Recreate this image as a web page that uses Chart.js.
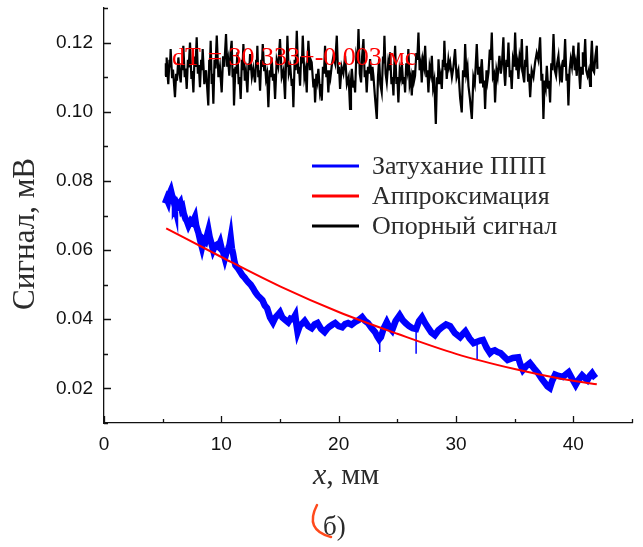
<!DOCTYPE html>
<html>
<head>
<meta charset="utf-8">
<script src="https://cdn.jsdelivr.net/npm/chart.js@4.4.0/dist/chart.umd.min.js"></script>
<style>
  html, body { margin: 0; padding: 0; background: #fff; }
  #wrap { width: 643px; height: 547px; }
</style>
</head>
<body>
<div id="wrap"><canvas id="plot" width="643" height="547"></canvas></div>
<script>
// Опорный сигнал (black)
const refX = [5.20, 5.27, 5.31, 5.34, 5.41, 5.48, 5.58, 5.62, 5.68, 5.80, 5.88, 6.05, 6.15, 6.22, 6.34, 6.44, 6.54, 6.62, 6.68, 6.76,
  6.88, 6.95, 7.05, 7.15, 7.22, 7.33, 7.45, 7.52, 7.62, 7.72, 7.80, 7.90, 8.00, 8.08, 8.18, 8.28, 8.34, 8.41, 8.55, 8.70,
  8.89, 8.97, 9.02, 9.09, 9.18, 9.24, 9.32, 9.42, 9.50, 9.61, 9.75, 9.88, 10.03, 10.15, 10.25, 10.40, 10.50, 10.58, 10.68, 10.78,
  10.88, 10.96, 11.02, 11.08, 11.20, 11.28, 11.37, 11.48, 11.55, 11.65, 11.75, 11.80, 11.88, 12.00, 12.10, 12.22, 12.32, 12.38, 12.45, 12.60,
  12.72, 12.87, 12.97, 13.02, 13.07, 13.15, 13.22, 13.30, 13.40, 13.46, 13.53, 13.65, 13.72, 13.81, 13.90, 14.01, 14.12, 14.20, 14.29, 14.40,
  14.48, 14.58, 14.72, 14.85, 15.00, 15.15, 15.30, 15.43, 15.52, 15.57, 15.63, 15.75, 15.88, 16.00, 16.07, 16.14, 16.25, 16.33, 16.43, 16.55,
  16.62, 16.71, 16.80, 16.87, 16.94, 17.08, 17.18, 17.28, 17.35, 17.42, 17.55, 17.62, 17.70, 17.85, 17.92, 17.99, 18.10, 18.18, 18.27, 18.40,
  18.48, 18.56, 18.66, 18.75, 18.84, 18.95, 19.03, 19.12, 19.22, 19.30, 19.41, 19.55, 19.70, 19.84, 19.95, 20.03, 20.12, 20.25, 20.40, 20.55,
  20.70, 20.85, 20.97, 21.05, 21.12, 21.25, 21.32, 21.40, 21.50, 21.60, 21.69, 21.80, 21.91, 22.00, 22.11, 22.22, 22.30, 22.39, 22.50, 22.58,
  22.68, 22.80, 22.88, 22.96, 23.10, 23.25, 23.35, 23.45, 23.55, 23.67, 23.78, 23.84, 23.90, 24.00, 24.10, 24.22, 24.30, 24.38, 24.50, 24.58,
  24.67, 24.75, 24.81, 24.92, 25.00, 25.09, 25.20, 25.30, 25.38, 25.50, 25.58, 25.66, 25.76, 25.85, 25.94, 26.05, 26.15, 26.23, 26.35, 26.43,
  26.51, 26.62, 26.70, 26.80, 26.90, 27.00, 27.08, 27.18, 27.28, 27.37, 27.48, 27.56, 27.65, 27.75, 27.85, 27.94, 28.05, 28.15, 28.28, 28.38,
  28.45, 28.51, 28.62, 28.70, 28.79, 28.88, 28.95, 29.01, 29.10, 29.15, 29.21, 29.35, 29.42, 29.50, 29.65, 29.78, 29.92, 30.05, 30.20, 30.35,
  30.49, 30.60, 30.70, 30.78, 30.88, 30.98, 31.06, 31.18, 31.35, 31.48, 31.60, 31.77, 31.88, 31.96, 32.05, 32.12, 32.20, 32.32, 32.40, 32.48,
  32.60, 32.68, 32.77, 32.88, 32.96, 33.05, 33.15, 33.25, 33.33, 33.45, 33.55, 33.70, 33.82, 33.92, 34.04, 34.12, 34.19, 34.30, 34.38, 34.47,
  34.58, 34.66, 34.75, 34.85, 34.95, 35.04, 35.15, 35.24, 35.32, 35.42, 35.52, 35.61, 35.70, 35.81, 35.90, 35.96, 36.03, 36.14, 36.22, 36.32,
  36.45, 36.60, 36.74, 36.88, 37.02, 37.17, 37.28, 37.36, 37.45, 37.55, 37.65, 37.74, 37.85, 37.92, 38.02, 38.12, 38.20, 38.31, 38.42, 38.53,
  38.62, 38.73, 38.85, 38.94, 39.02, 39.12, 39.20, 39.30, 39.42, 39.50, 39.58, 39.68, 39.78, 39.88, 40.01, 40.12, 40.20, 40.29, 40.36, 40.44,
  40.52, 40.58, 40.68, 40.75, 40.81, 40.90, 41.01, 41.10, 41.21, 41.32, 41.43, 41.50, 41.58, 41.68, 41.77, 41.88, 42.00, 42.05];
const refY = [0.1104, 0.1140, 0.1118, 0.1157, 0.1110, 0.1080, 0.1150, 0.1128, 0.1181, 0.1100, 0.1122, 0.1042, 0.1110, 0.1090, 0.1157, 0.1110, 0.1085, 0.1140, 0.1120, 0.1191,
  0.1100, 0.1125, 0.1066, 0.1150, 0.1128, 0.1200, 0.1095, 0.1118, 0.1056, 0.1160, 0.1130, 0.1215, 0.1110, 0.1135, 0.1071, 0.1150, 0.1120, 0.1181, 0.1080, 0.1120,
  0.1018, 0.1150, 0.1120, 0.1205, 0.1080, 0.1110, 0.1023, 0.1150, 0.1125, 0.1220, 0.1100, 0.1130, 0.1056, 0.1160, 0.1130, 0.1225, 0.1130, 0.1150, 0.1104, 0.1170,
  0.1205, 0.1100, 0.1125, 0.1018, 0.1130, 0.1110, 0.1172, 0.1080, 0.1100, 0.1037, 0.1150, 0.1120, 0.1196, 0.1090, 0.1115, 0.1056, 0.1140, 0.1120, 0.1167, 0.1100,
  0.1125, 0.1085, 0.1150, 0.1130, 0.1191, 0.1100, 0.1120, 0.1061, 0.1150, 0.1130, 0.1196, 0.1120, 0.1140, 0.1095, 0.1110, 0.1013, 0.1120, 0.1100, 0.1157, 0.1090,
  0.1110, 0.1037, 0.1150, 0.1130, 0.1210, 0.1100, 0.1120, 0.1037, 0.1150, 0.1130, 0.1220, 0.1110, 0.1130, 0.1075, 0.1095, 0.1013, 0.1150, 0.1120, 0.1234, 0.1110,
  0.1130, 0.1075, 0.1160, 0.1140, 0.1220, 0.1100, 0.1120, 0.1056, 0.1150, 0.1205, 0.1120, 0.1150, 0.1143, 0.1070, 0.1095, 0.1027, 0.1110, 0.1090, 0.1124, 0.1060,
  0.1080, 0.1032, 0.1130, 0.1110, 0.1191, 0.1100, 0.1120, 0.1056, 0.1120, 0.1100, 0.1133, 0.1160, 0.1140, 0.1220, 0.1110, 0.1130, 0.1066, 0.1130, 0.1110, 0.1162,
  0.1080, 0.1100, 0.1008, 0.1090, 0.1124, 0.1070, 0.1090, 0.1056, 0.1160, 0.1140, 0.1239, 0.1110, 0.1085, 0.1160, 0.1210, 0.1100, 0.1120, 0.1056, 0.1130, 0.1110,
  0.1152, 0.1090, 0.1130, 0.1104, 0.1040, 0.0979, 0.1100, 0.1152, 0.1080, 0.1056, 0.1160, 0.1140, 0.1220, 0.1110, 0.1085, 0.1140, 0.1120, 0.1172, 0.1080, 0.1100,
  0.1047, 0.1140, 0.1191, 0.1080, 0.1100, 0.1027, 0.1120, 0.1100, 0.1143, 0.1080, 0.1100, 0.1056, 0.1140, 0.1120, 0.1181, 0.1080, 0.1100, 0.1047, 0.1120, 0.1090,
  0.1104, 0.1170, 0.1150, 0.1229, 0.1120, 0.1140, 0.1085, 0.1150, 0.1130, 0.1191, 0.1100, 0.1120, 0.1056, 0.1130, 0.1110, 0.1162, 0.1070, 0.1090, 0.0965, 0.1100,
  0.1080, 0.1152, 0.1080, 0.1100, 0.1066, 0.1150, 0.1130, 0.1205, 0.1120, 0.1140, 0.1095, 0.1150, 0.1130, 0.1143, 0.1100, 0.1130, 0.1181, 0.1100, 0.1120, 0.1040,
  0.0998, 0.1120, 0.1100, 0.1196, 0.1110, 0.1130, 0.1075, 0.1040, 0.0979, 0.1100, 0.1080, 0.1196, 0.1110, 0.1130, 0.1085, 0.1120, 0.1152, 0.1070, 0.1090, 0.1008,
  0.1120, 0.1090, 0.1114, 0.1180, 0.1150, 0.1229, 0.1100, 0.1110, 0.1027, 0.1120, 0.1100, 0.1162, 0.1110, 0.1140, 0.1215, 0.1110, 0.1075, 0.1150, 0.1130, 0.1200,
  0.1100, 0.1120, 0.1066, 0.1150, 0.1130, 0.1229, 0.1120, 0.1140, 0.1095, 0.1160, 0.1140, 0.1210, 0.1110, 0.1085, 0.1150, 0.1130, 0.1191, 0.1090, 0.1110, 0.1042,
  0.1120, 0.1100, 0.1143, 0.1170, 0.1150, 0.1215, 0.1090, 0.1110, 0.0979, 0.1090, 0.1070, 0.1133, 0.1070, 0.1090, 0.1027, 0.1140, 0.1120, 0.1225, 0.1120, 0.1104,
  0.1140, 0.1162, 0.1100, 0.1120, 0.1085, 0.1150, 0.1130, 0.1210, 0.1090, 0.1110, 0.1018, 0.1120, 0.1152, 0.1130, 0.1191, 0.1120, 0.1140, 0.1104, 0.1150, 0.1200,
  0.1100, 0.1066, 0.1130, 0.1110, 0.1172, 0.1130, 0.1210, 0.1120, 0.1104, 0.1120, 0.1075, 0.1150, 0.1205, 0.1120, 0.1114, 0.1160, 0.1191, 0.1124];

// Затухание ППП (blue, centre of the noisy band)
const decayX = [5.20, 5.35, 5.45, 5.55, 5.70, 5.80, 5.90, 5.98, 6.05, 6.20, 6.30, 6.50, 6.62, 6.70, 6.80, 6.95, 7.05, 7.20, 7.40, 7.55,
  7.75, 7.85, 7.95, 8.05, 8.20, 8.35, 8.50, 8.65, 8.90, 9.00, 9.15, 9.30, 9.45, 9.60, 9.75, 9.90, 10.05, 10.15, 10.30, 10.45,
  10.60, 10.70, 10.80, 10.90, 11.00, 11.10, 11.20, 11.40, 11.55, 11.80, 11.95, 12.10, 12.30, 12.50, 12.70, 12.90, 13.10, 13.30, 13.50, 13.70,
  13.90, 14.15, 14.40, 14.60, 14.80, 15.00, 15.20, 15.45, 15.70, 15.90, 16.10, 16.30, 16.40, 16.50, 16.70, 16.90, 17.10, 17.40, 17.70, 17.95,
  18.20, 18.50, 18.80, 19.00, 19.20, 19.45, 19.70, 20.00, 20.30, 20.55, 20.80, 21.10, 21.40, 21.70, 22.00, 22.25, 22.50, 22.80, 23.10, 23.30,
  23.45, 23.60, 23.85, 24.10, 24.30, 24.55, 24.85, 25.20, 25.45, 25.70, 26.00, 26.30, 26.60, 26.85, 27.10, 27.35, 27.60, 27.90, 28.20, 28.50,
  28.80, 29.15, 29.50, 29.90, 30.35, 30.60, 30.80, 31.15, 31.50, 31.80, 32.05, 32.30, 32.60, 32.90, 33.10, 33.30, 33.55, 33.80, 34.10, 34.40,
  34.85, 35.30, 35.50, 35.70, 36.00, 36.30, 36.65, 37.00, 37.30, 37.60, 37.80, 38.00, 38.20, 38.45, 38.75, 39.10, 39.35, 39.60, 39.90, 40.20,
  40.45, 40.75, 41.00, 41.20, 41.40, 41.60, 41.75, 41.90];
const decayY = [0.0735, 0.0748, 0.0740, 0.0760, 0.0772, 0.0758, 0.0750, 0.0735, 0.0725, 0.0735, 0.0728, 0.0738, 0.0718, 0.0722, 0.0705, 0.0690, 0.0685, 0.0671, 0.0685, 0.0680,
  0.0695, 0.0672, 0.0660, 0.0650, 0.0628, 0.0608, 0.0630, 0.0625, 0.0657, 0.0638, 0.0620, 0.0600, 0.0612, 0.0615, 0.0610, 0.0622, 0.0600, 0.0595, 0.0576, 0.0595,
  0.0605, 0.0615, 0.0635, 0.0605, 0.0590, 0.0570, 0.0556, 0.0548, 0.0540, 0.0527, 0.0522, 0.0515, 0.0507, 0.0500, 0.0490, 0.0478, 0.0469, 0.0462, 0.0455, 0.0440,
  0.0432, 0.0405, 0.0391, 0.0405, 0.0412, 0.0420, 0.0405, 0.0398, 0.0391, 0.0402, 0.0400, 0.0412, 0.0385, 0.0363, 0.0382, 0.0388, 0.0395, 0.0380, 0.0374, 0.0385,
  0.0389, 0.0372, 0.0363, 0.0372, 0.0378, 0.0384, 0.0389, 0.0380, 0.0377, 0.0386, 0.0389, 0.0384, 0.0392, 0.0398, 0.0406, 0.0395, 0.0389, 0.0375, 0.0363, 0.0350,
  0.0342, 0.0348, 0.0375, 0.0392, 0.0378, 0.0368, 0.0395, 0.0412, 0.0398, 0.0389, 0.0380, 0.0374, 0.0372, 0.0395, 0.0406, 0.0390, 0.0377, 0.0362, 0.0354, 0.0368,
  0.0377, 0.0385, 0.0380, 0.0360, 0.0348, 0.0358, 0.0365, 0.0345, 0.0331, 0.0335, 0.0338, 0.0340, 0.0318, 0.0302, 0.0308, 0.0310, 0.0305, 0.0302, 0.0292, 0.0282,
  0.0288, 0.0290, 0.0268, 0.0253, 0.0265, 0.0273, 0.0258, 0.0244, 0.0228, 0.0215, 0.0206, 0.0201, 0.0222, 0.0240, 0.0236, 0.0233, 0.0240, 0.0247, 0.0228, 0.0210,
  0.0225, 0.0238, 0.0230, 0.0224, 0.0236, 0.0244, 0.0236, 0.0230];

// thin downward spikes on the blue trace (null breaks the line)
const spikeX = [23.5, 23.5, 23.5, 26.6, 26.6, 26.6, 31.8, 31.8];
const spikeY = [0.0345, 0.0305, null, 0.0372, 0.0300, null, 0.0335, 0.0282];

// Аппроксимация (red)
const fitX = [5.3, 10, 15, 20, 25, 30, 35, 38.5, 42];
const fitY = [0.0663, 0.0580, 0.0495, 0.0421, 0.0358, 0.0300, 0.0256, 0.0231, 0.0212];

const xMajor = [0, 10, 20, 30, 40];
const xMinor = [5, 15, 25, 35, 45];
const yMajor = [0.02, 0.04, 0.06, 0.08, 0.10, 0.12];
const yMinor = [0.01, 0.03, 0.05, 0.07, 0.09, 0.11, 0.13];

const seriesNames = ['Затухание ППП', 'Аппроксимация', 'Опорный сигнал'];
const seriesColors = ['#0000ff', '#ff0000', '#000000'];
const noteText = 'dT = 30.333+-0.003 мс';

const pts = (xs, ys) => xs.map((x, i) => ({ x: x, y: ys[i] }));

// inward tick marks, legend, titles
const decorations = {
  id: 'decorations',
  afterDatasetsDraw(chart) {
    const ctx = chart.ctx;
    const xs = chart.scales.x, ys = chart.scales.y;
    const left = xs.left, bottom = ys.bottom;
    ctx.save();
    ctx.strokeStyle = '#111';
    ctx.lineWidth = 1.3;
    ctx.beginPath();
    yMajor.forEach(v => { const p = Math.round(ys.getPixelForValue(v)) + 0.5; ctx.moveTo(left, p); ctx.lineTo(left + 7, p); });
    yMinor.forEach(v => { const p = Math.round(ys.getPixelForValue(v)) + 0.5; ctx.moveTo(left, p); ctx.lineTo(left + 4, p); });
    xMajor.forEach(v => { const p = Math.round(xs.getPixelForValue(v)) + 0.5; ctx.moveTo(p, bottom); ctx.lineTo(p, bottom - 7); });
    xMinor.forEach(v => { const p = Math.round(xs.getPixelForValue(v)) + 0.5; ctx.moveTo(p, bottom); ctx.lineTo(p, bottom - 4); });
    ctx.stroke();

    // annotation
    ctx.fillStyle = '#ff0000';
    ctx.font = '26px "Liberation Serif"';
    ctx.textBaseline = 'alphabetic';
    ctx.textAlign = 'left';
    ctx.fillText(noteText, 172, 65);

    // legend
    seriesNames.forEach((name, i) => {
      const y = 166 + i * 30;
      ctx.strokeStyle = seriesColors[i];
      ctx.lineWidth = 3;
      ctx.beginPath();
      ctx.moveTo(312, y);
      ctx.lineTo(359, y);
      ctx.stroke();
      ctx.fillStyle = '#2b2b2b';
      ctx.textBaseline = 'middle';
      ctx.fillText(name, 372, y + 1);
    });

    // axis titles
    ctx.fillStyle = '#2b2b2b';
    ctx.textAlign = 'center';
    ctx.textBaseline = 'alphabetic';
    ctx.save();
    ctx.translate(34, 234);
    ctx.rotate(-Math.PI / 2);
    ctx.font = '31px "Liberation Serif"';
    ctx.fillText('Сигнал, мВ', 0, 0);
    ctx.restore();

    ctx.textAlign = 'left';
    ctx.font = 'italic 30px "Liberation Serif"';
    ctx.fillText('x', 313, 484);
    const w = ctx.measureText('x').width;
    ctx.font = '30px "Liberation Serif"';
    ctx.fillText(', мм', 313 + w, 484);

    ctx.font = '27px "Liberation Serif"';
    ctx.fillText('б)', 323, 535);
    ctx.strokeStyle = '#ff4a1c';
    ctx.lineWidth = 2.5;
    ctx.lineCap = 'round';
    ctx.beginPath();
    ctx.moveTo(317, 505);
    ctx.quadraticCurveTo(304, 530, 331, 537);
    ctx.stroke();
    ctx.restore();
  }
};

new Chart(document.getElementById('plot'), {
  type: 'line',
  data: {
    datasets: [
      { label: seriesNames[2], data: pts(refX, refY), borderColor: seriesColors[2], borderWidth: 2.2, pointRadius: 0, tension: 0, order: 3 },
      { label: seriesNames[0], data: pts(decayX, decayY), borderColor: seriesColors[0], borderWidth: 6.5, pointRadius: 0, tension: 0, order: 2 },
      { label: 'spikes', data: pts(spikeX, spikeY), borderColor: seriesColors[0], borderWidth: 1.5, pointRadius: 0, spanGaps: false, order: 2 },
      { label: seriesNames[1], data: pts(fitX, fitY), borderColor: seriesColors[1], borderWidth: 2, pointRadius: 0, cubicInterpolationMode: 'monotone', order: 1 }
    ]
  },
  options: {
    responsive: false,
    animation: false,
    devicePixelRatio: 1,
    layout: { padding: { left: 0, right: 11, top: 8, bottom: 0 } },
    plugins: { legend: { display: false }, tooltip: { enabled: false } },
    scales: {
      x: {
        type: 'linear', min: 0, max: 45,
        afterFit: s => { s.height = 124; s.paddingLeft = 0; s.paddingRight = 0; },
        afterBuildTicks: s => { s.ticks = xMajor.map(v => ({ value: v })); },
        grid: { display: false, drawTicks: false },
        border: { display: true, color: '#111', width: 1.3 },
        ticks: { padding: 10, color: '#111', font: { family: '"Liberation Sans"', size: 19 }, callback: v => String(v), maxRotation: 0 }
      },
      y: {
        type: 'linear', min: 0.01, max: 0.13,
        afterFit: s => { s.width = 104; s.paddingTop = 0; s.paddingBottom = 0; },
        afterBuildTicks: s => { s.ticks = yMajor.map(v => ({ value: v })); },
        grid: { display: false, drawTicks: false },
        border: { display: true, color: '#111', width: 1.3 },
        ticks: { padding: 11, color: '#111', font: { family: '"Liberation Sans"', size: 19 }, callback: v => v.toFixed(2) }
      }
    }
  },
  plugins: [decorations]
});
</script>
</body>
</html>
